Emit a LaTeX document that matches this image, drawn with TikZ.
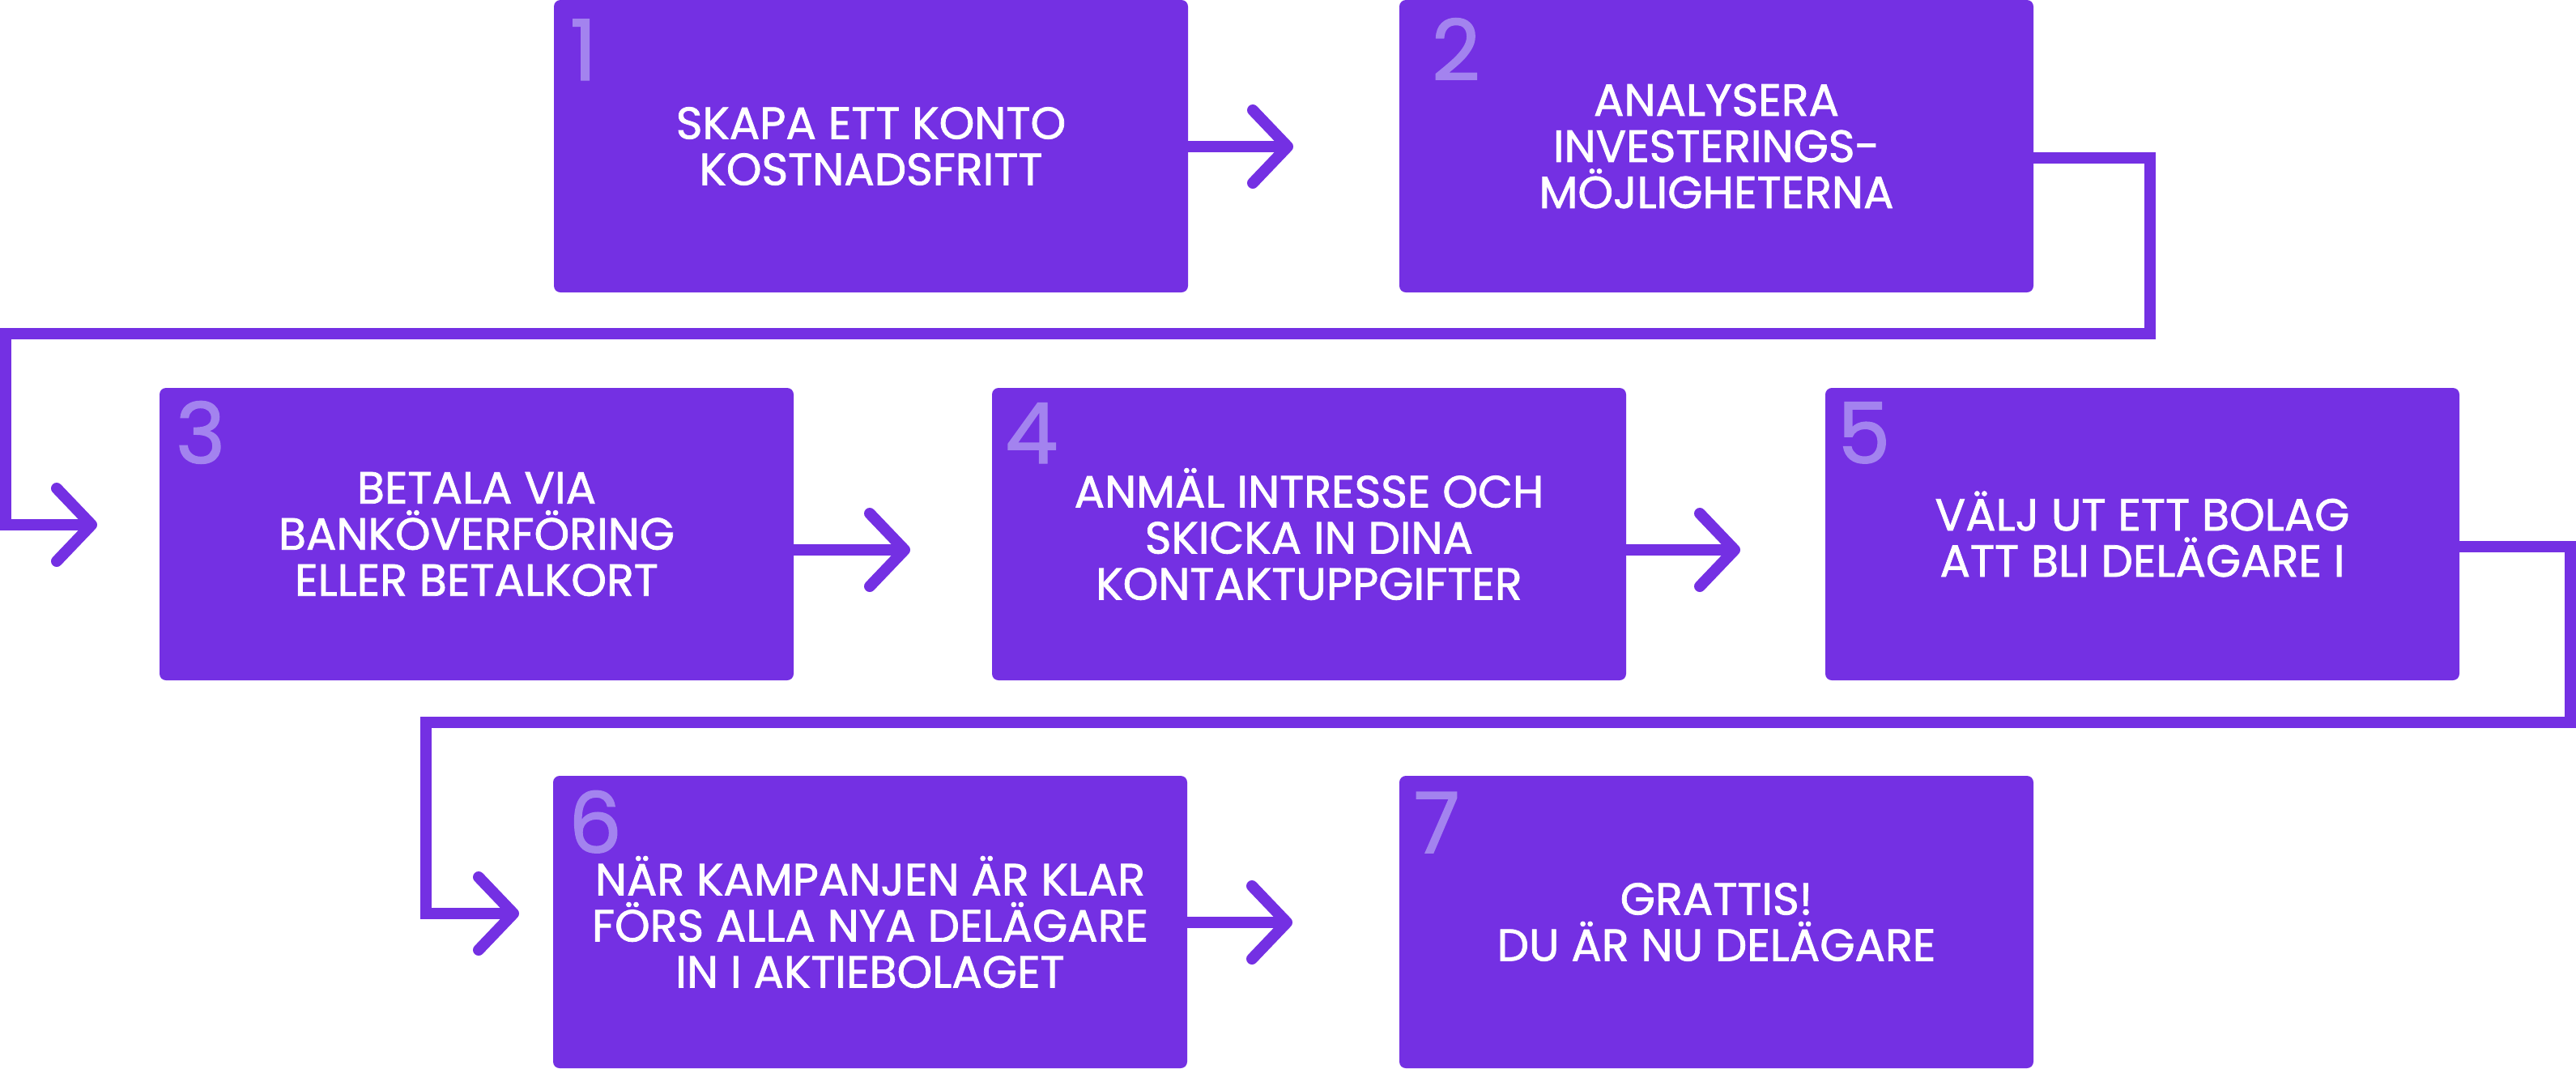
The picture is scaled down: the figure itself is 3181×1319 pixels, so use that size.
\documentclass[tikz,border=0pt]{standalone}
\usepackage{fontspec}
\setmainfont{Poppins}
\newfontfamily\boxfont{Poppins}[FakeBold=1.4]
\usetikzlibrary{calc}
\definecolor{boxc}{HTML}{7430E3}
\definecolor{numc}{HTML}{A383EF}
\begin{document}
\begin{tikzpicture}[x=0.25pt,y=-0.25pt,
  stepbox/.style={fill=boxc, rounded corners=2pt, minimum width=195.75pt, minimum height=90.25pt,
    inner sep=0pt, outer sep=0pt, text=white, align=center,
    font=\boxfont\fontsize{13.9}{14.25}\selectfont},
  num/.style={text=numc, font=\boxfont\fontsize{26}{26}\selectfont, inner sep=0pt, outer sep=0pt, anchor=base west},
  conn/.style={draw=boxc, line width=3.5pt, line join=miter, line cap=butt},
  head/.style={draw=boxc, line width=3.5pt, line join=round, line cap=round}]
\useasboundingbox (0,0) rectangle (3181,1319);

% boxes
\node[stepbox] (b1) at (1075.5,180.5) {SKAPA ETT KONTO\\KOSTNADSFRITT};
\node[stepbox] (b2) at (2119.5,180.5) {ANALYSERA\\INVESTERINGS-\\MÖJLIGHETERNA};
\node[stepbox] (b3) at (588.5,659.5) {BETALA VIA\\BANKÖVERFÖRING\\ELLER BETALKORT};
\node[stepbox] (b4) at (1616.5,659.5) {ANMÄL INTRESSE OCH\\SKICKA IN DINA\\KONTAKTUPPGIFTER};
\node[stepbox] (b5) at (2645.5,659.5) {VÄLJ UT ETT BOLAG\\ATT BLI DELÄGARE I};
\node[stepbox] (b6) at (1074.5,1138.5) {NÄR KAMPANJEN ÄR KLAR\\FÖRS ALLA NYA DELÄGARE\\IN I AKTIEBOLAGET};
\node[stepbox] (b7) at (2119.5,1138.5) {GRATTIS!\\DU ÄR NU DELÄGARE};

% numbers
\node[num] (n1) at ($(b1.north west)+(20,99)$) {1};
\node[num] (n2) at ($(b2.north west)+(40,99)$) {2};
\node[num] (n3) at ($(b3.north west)+(20,93)$) {3};
\node[num] (n4) at ($(b4.north west)+(16,93)$) {4};
\node[num] (n5) at ($(b5.north west)+(15,93)$) {5};
\node[num] (n6) at ($(b6.north west)+(19,95)$) {6};
\node[num] (n7) at ($(b7.north west)+(18,95)$) {7};

% arrow tips and bend points
\coordinate (t12) at (1590,181);
\coordinate (t34) at (1117,679);
\coordinate (t45) at (2142,679);
\coordinate (t67) at (1589,1139);
\coordinate (t23) at (113,648);
\coordinate (t56) at (634,1128);
\coordinate (k1) at (2655,195);
\coordinate (k2) at (2655,412);
\coordinate (k3) at (7,412);
\coordinate (k4) at (7,648);
\coordinate (m1) at (3174,675);
\coordinate (m2) at (3174,892);
\coordinate (m3) at (526,892);
\coordinate (m4) at (526,1128);

% straight arrows
\draw[conn] (b1.east |- t12) -- ($(t12)+(-3,0)$);
\draw[conn] (b3.east |- t34) -- ($(t34)+(-3,0)$);
\draw[conn] (b4.east |- t45) -- ($(t45)+(-3,0)$);
\draw[conn] (b6.east |- t67) -- ($(t67)+(-3,0)$);

% long connectors
\draw[conn] (b2.east |- k1) -- (k1) -- (k2) -- (k3) -- (k4) -- ($(t23)+(-3,0)$);
\draw[conn] (b5.east |- m1) -- (m1) -- (m2) -- (m3) -- (m4) -- ($(t56)+(-3,0)$);

% arrowheads
\foreach \t in {t12,t34,t45,t67,t23,t56}{
  \draw[head] ($(\t)+(-43,-45)$) -- (\t) -- ($(\t)+(-43,45)$);
}
\end{tikzpicture}
\end{document}
